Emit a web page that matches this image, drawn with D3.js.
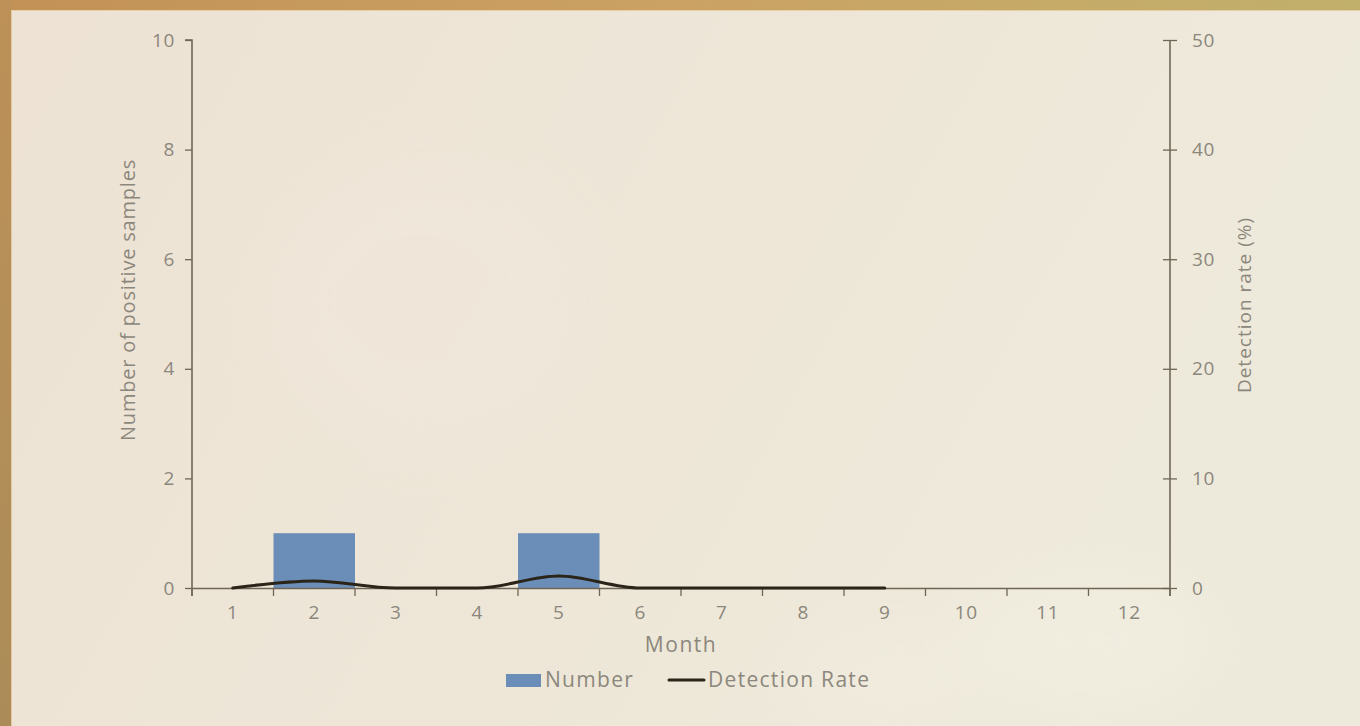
<!DOCTYPE html>
<html>
<head>
<meta charset="utf-8">
<script src="https://cdn.jsdelivr.net/npm/d3@7"></script>
<style>
  html, body { margin: 0; padding: 0; }
  body { width: 1360px; height: 726px; overflow: hidden; }
  svg { display: block; }
  text { font-family: "Open Sans", "Noto Sans", sans-serif; font-weight: 400; fill: #8c877c; }
</style>
</head>
<body>
<svg id="chart" width="1360" height="726"></svg>
<script>
// Monthly surveillance data
const months = [1, 2, 3, 4, 5, 6, 7, 8, 9, 10, 11, 12];
const positiveCounts = [0, 1, 0, 0, 1, 0, 0, 0, 0, null, null, null];
const detectionRate = [0, 0.65, 0, 0, 1.1, 0, 0, 0, 0, null, null, null];
const leftTicks = [0, 2, 4, 6, 8, 10];
const rightTicks = [0, 10, 20, 30, 40, 50];

const svg = d3.select("#chart");
const W = 1360, H = 726;

// Backdrop: warm paper gradient with a framed top and left edge
const defs = svg.append("defs");
const bg = defs.append("linearGradient").attr("id", "bg").attr("x1", 0).attr("x2", 1).attr("y1", 0).attr("y2", 0.3);
bg.append("stop").attr("offset", 0).attr("stop-color", "#ede2d4");
bg.append("stop").attr("offset", 1).attr("stop-color", "#eeeadb");
const topBar = defs.append("linearGradient").attr("id", "topBar").attr("x1", 0).attr("x2", 1);
topBar.append("stop").attr("offset", 0).attr("stop-color", "#c29156");
topBar.append("stop").attr("offset", 0.5).attr("stop-color", "#cba263");
topBar.append("stop").attr("offset", 1).attr("stop-color", "#c1b06c");
const leftBar = defs.append("linearGradient").attr("id", "leftBar").attr("x1", 0).attr("x2", 0).attr("y1", 0).attr("y2", 1);
leftBar.append("stop").attr("offset", 0).attr("stop-color", "#bd9158");
leftBar.append("stop").attr("offset", 1).attr("stop-color", "#ab8c58");
const blur = defs.append("filter").attr("id", "soft").attr("x", "-50%").attr("y", "-50%").attr("width", "200%").attr("height", "200%");
blur.append("feGaussianBlur").attr("stdDeviation", 30);

svg.append("rect").attr("width", W).attr("height", H).attr("fill", "url(#bg)");
const blobs = svg.append("g").attr("filter", "url(#soft)").attr("opacity", 0.35);
blobs.append("ellipse").attr("cx", 1080).attr("cy", 640).attr("rx", 130).attr("ry", 70).attr("fill", "#f5f2e6");
blobs.append("ellipse").attr("cx", 880).attr("cy", 680).attr("rx", 90).attr("ry", 50).attr("fill", "#f4f0e3");
blobs.append("ellipse").attr("cx", 420).attr("cy", 300).attr("rx", 160).attr("ry", 140).attr("fill", "#f3eadf");
svg.append("rect").attr("x", 0).attr("y", 0).attr("width", W).attr("height", 10).attr("fill", "url(#topBar)");
svg.append("rect").attr("x", 0).attr("y", 0).attr("width", 11).attr("height", H).attr("fill", "url(#leftBar)");
svg.append("rect").attr("x", 11).attr("y", 10).attr("width", 1).attr("height", H - 10).attr("fill", "#e2c9a2");
svg.append("rect").attr("x", 11).attr("y", 10).attr("width", W - 11).attr("height", 1).attr("fill", "#e6cfa6");

// Plot area
const m = { left: 192, right: 1170, top: 40, bottom: 588 };
const x = d3.scaleBand().domain(months).range([m.left, m.right]).padding(0);
const yL = d3.scaleLinear().domain([0, 10]).range([m.bottom, m.top]);
const yR = d3.scaleLinear().domain([0, 50]).range([m.bottom, m.top]);

const axisColor = "#6f6656";
const textColor = "#8f8a80";

// Bars: positive sample counts
svg.append("g").selectAll("rect")
  .data(months.map((mo, i) => ({ mo, v: positiveCounts[i] })).filter(d => d.v))
  .join("rect")
  .attr("x", d => x(d.mo))
  .attr("width", x.bandwidth())
  .attr("y", d => yL(d.v))
  .attr("height", d => yL(0) - yL(d.v))
  .attr("fill", "#6b8eb8");

// Left axis
const gL = svg.append("g").attr("transform", `translate(${m.left},0)`)
  .call(d3.axisLeft(yL).tickValues(leftTicks).tickSize(7).tickPadding(10));
// Right axis
const gR = svg.append("g").attr("transform", `translate(${m.right},0)`)
  .call(d3.axisRight(yR).tickValues(rightTicks).tickSize(7).tickPadding(15));
gR.selectAll(".tick line").attr("x1", -7);
// Bottom axis with ticks between months
const gB = svg.append("g").attr("transform", `translate(0,${m.bottom})`)
  .call(d3.axisBottom(x).tickSize(0).tickPadding(18));
gB.selectAll(".tick text").attr("dy", "0.71em");
gB.append("g").selectAll("line")
  .data(months.map(mo => x(mo)).concat([m.right]))
  .join("line")
  .attr("x1", d => d).attr("x2", d => d)
  .attr("y1", 0).attr("y2", 8)
  .attr("stroke", axisColor).attr("stroke-width", 1.3);

[gL, gR, gB].forEach(g => {
  g.select(".domain").attr("stroke", axisColor).attr("stroke-width", 1.6);
  g.selectAll(".tick line").attr("stroke", axisColor).attr("stroke-width", 1.3);
  g.selectAll(".tick text").attr("font-size", 19).attr("fill", textColor)
    .attr("letter-spacing", "0.6px")
    .attr("font-family", "Open Sans, sans-serif").attr("font-weight", 400);
});
gL.select(".domain").attr("d", `M-7,${m.top}H0V${m.bottom + 8}`);
gR.select(".domain").attr("d", `M7,${m.top}H0V${m.bottom + 8}`).attr("stroke", "none");
gR.append("line").attr("x1", 0).attr("x2", 0).attr("y1", m.top).attr("y2", m.bottom + 8)
  .attr("stroke", axisColor).attr("stroke-width", 1.6);

// Detection rate line
const line = d3.line()
  .defined(d => d.v !== null)
  .x(d => x(d.mo) + x.bandwidth() / 2)
  .y(d => yR(d.v))
  .curve(d3.curveMonotoneX);
svg.append("path")
  .datum(months.map((mo, i) => ({ mo, v: detectionRate[i] })))
  .attr("d", line)
  .attr("fill", "none")
  .attr("stroke", "#2b2418")
  .attr("stroke-width", 3)
  .attr("stroke-linecap", "round");

// Axis titles
const titles = svg.append("g").attr("fill", textColor);
titles.append("text").attr("x", (m.left + m.right) / 2).attr("y", 652).attr("fill", textColor)
  .attr("text-anchor", "middle").attr("font-size", 21).attr("letter-spacing", "1.5px").text("Month");
titles.append("text").attr("transform", `translate(135,${(m.top + m.bottom) / 2 - 14}) rotate(-90)`).attr("fill", textColor)
  .attr("text-anchor", "middle").attr("font-size", 20).attr("letter-spacing", "0.8px").text("Number of positive samples");
titles.append("text").attr("transform", `translate(1251,${(m.top + m.bottom) / 2 - 9}) rotate(-90)`).attr("fill", textColor)
  .attr("text-anchor", "middle").attr("font-size", 19).attr("letter-spacing", "1px").text("Detection rate (%)");

// Legend
const lg = svg.append("g");
lg.append("rect").attr("x", 506).attr("y", 674).attr("width", 35).attr("height", 13).attr("fill", "#6b8eb8");
lg.append("text").attr("x", 545).attr("y", 687).attr("font-size", 21).attr("letter-spacing", "1.3px").attr("fill", textColor).text("Number");
lg.append("line").attr("x1", 669).attr("x2", 704).attr("y1", 680).attr("y2", 680)
  .attr("stroke", "#2b2418").attr("stroke-width", 3).attr("stroke-linecap", "round");
lg.append("text").attr("x", 708).attr("y", 687).attr("font-size", 21).attr("letter-spacing", "1.3px").attr("fill", textColor).text("Detection Rate");
</script>
</body>
</html>
